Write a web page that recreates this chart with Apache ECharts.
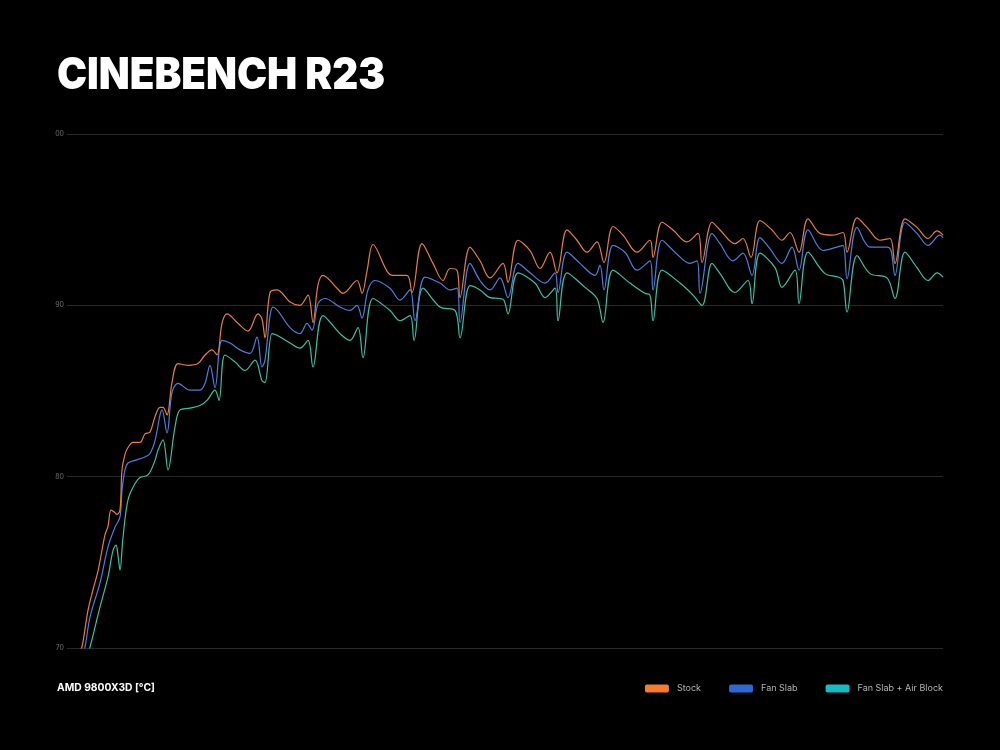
<!DOCTYPE html>
<html>
<head>
<meta charset="utf-8">
<title>Cinebench R23</title>
<script src="https://cdn.jsdelivr.net/npm/echarts@6/dist/echarts.min.js"></script>
<style>
  html, body { margin: 0; padding: 0; background: #000; }
  #chart { width: 1000px; height: 750px; }
</style>
</head>
<body>
<div id="chart"></div>
<script>
// temperature traces, [sample, °C]
const stock = [
  [0, 69.9], [2, 70.06], [8, 72.2], [13, 73.4], [18, 74.5], [25, 76.6], [28, 77.1], [31, 78.05],
  [34, 77.95], [37, 77.8], [40, 78.05], [42, 80.4], [45, 81.3], [48, 81.7], [53, 82.0], [60, 82.0],
  [65, 82.5], [70, 82.6], [75, 83.5], [80, 84.05], [83, 84.05], [87, 83.6], [92, 85.5], [98, 86.6],
  [108, 86.5], [118, 86.6], [125, 87.1], [132, 87.4], [137, 87.1], [142, 88.95], [147, 89.5],
  [158, 88.95], [168, 88.5], [178, 89.5], [182, 89.2], [185, 88.1], [190, 90.75], [197, 90.9],
  [210, 90.2], [220, 90.0], [228, 90.6], [233, 89.0], [238, 91.2], [243, 91.75], [257, 91.0],
  [263, 90.7], [277, 91.45], [282, 90.7], [287, 92.0], [293, 93.55], [307, 92.0], [313, 91.75],
  [327, 91.75], [332, 90.75], [342, 93.6], [353, 92.45], [363, 91.45], [370, 92.15], [377, 92.05],
  [380, 90.45], [390, 93.4], [400, 92.6], [410, 91.6], [423, 92.45], [428, 91.35], [438, 93.8],
  [450, 93.2], [460, 92.15], [470, 93.1], [477, 91.9], [487, 94.4], [497, 93.8], [507, 93.1],
  [517, 93.7], [524, 92.5], [533, 94.6], [543, 94.1], [557, 93.1], [570, 93.8], [573, 92.8],
  [582, 94.85], [593, 94.4], [607, 93.7], [618, 94.2], [622, 92.5], [632, 94.85], [640, 94.4],
  [655, 93.6], [663, 93.9], [671, 92.8], [680, 94.95], [692, 94.4], [702, 93.8], [710, 94.25],
  [719, 93.1], [728, 95.05], [740, 94.2], [753, 94.1], [763, 94.25], [767, 93.1], [777, 95.1],
  [787, 94.55], [800, 93.8], [810, 93.9], [815, 92.45], [825, 95.05], [837, 94.55], [848, 93.9],
  [857, 94.35], [863, 94.1]
];

const fanSlab = [
  [3, 69.8], [5, 70.05], [10, 71.8], [20, 73.8], [28, 75.9], [35, 77.05], [40, 77.65], [42, 79.2],
  [45, 80.4], [48, 80.8], [55, 80.95], [65, 81.15], [70, 81.35], [75, 82.1], [80, 83.6], [82, 83.9],
  [87, 82.55], [92, 84.9], [98, 85.45], [110, 85.05], [120, 85.05], [125, 85.45], [130, 86.5],
  [135, 85.2], [142, 87.95], [150, 87.8], [160, 87.4], [170, 87.2], [177, 88.15], [182, 86.4],
  [185, 86.8], [190, 89.4], [193, 89.9], [210, 88.7], [220, 88.35], [227, 88.95], [232, 88.55],
  [238, 90.1], [245, 90.4], [260, 89.9], [270, 89.7], [277, 90.0], [282, 89.25], [288, 90.9],
  [295, 91.45], [310, 91.0], [320, 90.3], [330, 90.9], [335, 89.1], [345, 91.65], [360, 91.3],
  [370, 90.9], [377, 91.0], [380, 89.0], [390, 92.45], [400, 91.45], [410, 90.9], [420, 91.6],
  [428, 90.45], [438, 92.45], [450, 91.9], [465, 91.3], [475, 91.9], [478, 90.75], [487, 93.1],
  [500, 92.45], [515, 91.75], [520, 92.35], [524, 90.9], [533, 93.5], [545, 93.1], [557, 92.05],
  [570, 92.6], [573, 90.9], [582, 93.8], [595, 93.1], [610, 92.45], [617, 92.6], [620, 90.7],
  [632, 94.2], [640, 93.6], [653, 92.6], [663, 93.05], [672, 91.75], [680, 93.95], [690, 93.3],
  [702, 92.45], [712, 93.4], [719, 92.05], [728, 94.4], [743, 93.2], [757, 93.4], [763, 93.5],
  [767, 91.55], [777, 94.55], [790, 93.4], [807, 93.4], [811, 93.2], [815, 91.75], [825, 94.85],
  [837, 94.2], [848, 93.5], [860, 94.1], [863, 93.95]
];

const fanSlabAirBlock = [
  [8, 69.8], [10, 70.05], [20, 72.4], [28, 74.15], [33, 75.7], [36, 76.0], [38, 75.4], [40, 74.55],
  [43, 76.45], [48, 78.65], [55, 79.6], [60, 79.95], [68, 80.1], [75, 80.95], [78, 81.55],
  [83, 82.15], [88, 80.4], [95, 82.9], [100, 83.9], [110, 84.0], [120, 84.15], [127, 84.45],
  [135, 85.05], [139, 84.45], [145, 87.1], [155, 86.7], [165, 86.2], [175, 86.8], [182, 85.6],
  [185, 85.5], [192, 88.35], [197, 88.25], [210, 87.8], [220, 87.5], [228, 87.95], [233, 86.4],
  [243, 89.4], [260, 88.35], [270, 87.95], [278, 88.7], [283, 86.95], [293, 90.4], [310, 89.7],
  [320, 89.1], [330, 89.4], [334, 87.95], [343, 91.0], [360, 89.9], [375, 89.7], [380, 88.1],
  [390, 91.15], [400, 90.9], [410, 90.45], [420, 90.4], [424, 90.3], [428, 89.5], [438, 91.9],
  [455, 91.3], [465, 90.45], [475, 91.0], [478, 89.1], [487, 91.9], [505, 91.05], [517, 90.4],
  [523, 89.0], [533, 92.05], [550, 91.3], [565, 90.7], [570, 90.6], [573, 89.1], [582, 92.05],
  [600, 91.3], [613, 90.6], [622, 90.0], [632, 92.45], [640, 91.85], [655, 90.75], [668, 91.45],
  [672, 90.1], [680, 93.05], [695, 92.2], [702, 91.05], [715, 92.05], [719, 90.1], [728, 93.1],
  [745, 91.85], [758, 91.65], [763, 91.45], [767, 89.6], [777, 92.9], [790, 91.85], [807, 91.6],
  [815, 90.4], [825, 93.1], [837, 92.2], [848, 91.45], [857, 91.9], [863, 91.65]
];

const seriesNames = ['Stock', 'Fan Slab', 'Fan Slab + Air Block'];
const lineColors = ['#e67e45', '#4f7fdc', '#3fbfa4'];
const legendColors = ['#f47b30', '#2f68d2', '#1db9c3'];
const yTicks = [70, 80, 90, 100];
const yTickLabels = ['70', '80', '90', '00'];

const chart = echarts.init(document.getElementById('chart'));

const option = {
  backgroundColor: '#000',
  animation: false,
  textStyle: { fontFamily: 'Inter' },
  title: {
    text: 'AMD 9800X3D [°C]',
    left: 57,
    top: 683,
    padding: 0,
    textStyle: { color: '#fff', fontSize: 10.3, fontWeight: 700, fontFamily: 'Inter' }
  },
  // big heading, squeezed a bit to get the tight tracking of the original
  graphic: [{
    type: 'text',
    x: 57,
    y: 54,
    scaleX: 0.915,
    style: {
      text: 'CINEBENCH R23',
      fill: '#fff',
      font: '900 44px Inter',
      textVerticalAlign: 'top'
    }
  }],
  legend: {
    right: 57,
    top: 684,
    padding: 0,
    icon: 'roundRect',
    itemWidth: 24,
    itemHeight: 8,
    itemGap: 28,
    textStyle: { color: '#b5b5b5', fontSize: 9, fontFamily: 'Inter', padding: [0, 0, 0, 3] },
    data: seriesNames.map((n, i) => ({ name: n, itemStyle: { color: legendColors[i] } }))
  },
  grid: { left: 67, right: 57, top: 134, bottom: 102 },
  xAxis: {
    type: 'value',
    min: -13,
    max: 863,
    show: false
  },
  yAxis: {
    type: 'value',
    min: 70,
    max: 100,
    interval: 10,
    axisLine: { show: false },
    axisTick: { show: false },
    splitLine: { lineStyle: { color: '#282828', width: 1 } },
    axisLabel: {
      color: '#6e6e6e',
      fontSize: 7,
      margin: 3,
      formatter: v => yTickLabels[yTicks.indexOf(v)]
    }
  },
  series: [stock, fanSlab, fanSlabAirBlock].map((d, i) => ({
    name: seriesNames[i],
    type: 'line',
    data: d,
    smooth: 0.35,
    showSymbol: false,
    clip: true,
    z: 3 - i,
    lineStyle: { color: lineColors[i], width: 1.2 },
    itemStyle: { color: lineColors[i] }
  }))
};

chart.setOption(option);
</script>
</body>
</html>
